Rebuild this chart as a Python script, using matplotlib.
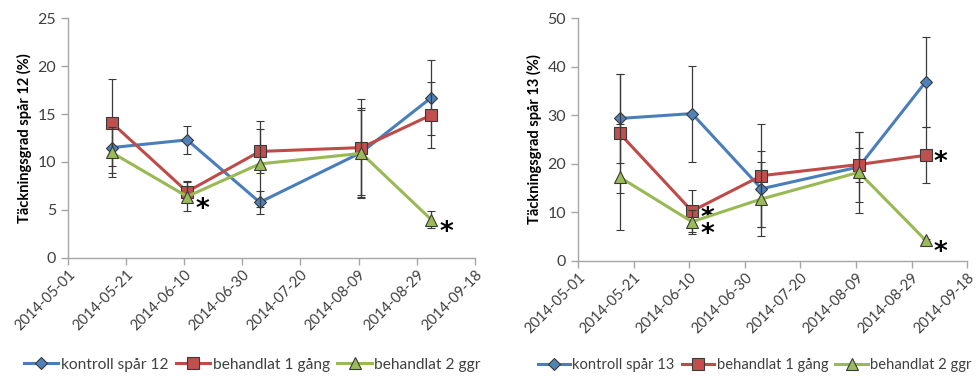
import matplotlib

matplotlib.use("Agg")
import matplotlib.dates as mdates
import matplotlib.pyplot as plt
from matplotlib.lines import Line2D
import numpy as np
import pandas as pd

plt.rcParams["font.family"] = ["Lato", "DejaVu Sans"]

dates = pd.to_datetime(["2014-05-16", "2014-06-11", "2014-07-06", "2014-08-10", "2014-09-03"])
tick_dates = pd.date_range("2014-05-01", "2014-09-18", freq="20D")

# spar 12
kontroll_12 = [11.5, 12.3, 5.8, 11.0, 16.7]
kontroll_12_err = [2.7, 1.5, 1.2, 4.4, 3.9]
beh1_12 = [14.1, 6.9, 11.1, 11.5, 14.9]
beh1_12_err = [4.5, 1.1, 2.3, 5.1, 3.4]
beh2_12 = [11.0, 6.4, 9.8, 10.9, 4.0]
beh2_12_err = [2.6, 1.5, 4.5, 4.7, 0.9]
stars_12 = [(2, 1), (2, 4)]  # (series index, point index)

# spar 13
kontroll_13 = [29.3, 30.3, 14.8, 19.3, 36.8]
kontroll_13_err = [9.2, 9.9, 7.8, 7.3, 9.3]
beh1_13 = [26.2, 10.2, 17.5, 19.8, 21.7]
beh1_13_err = [12.3, 4.3, 10.6, 3.5, 5.8]
beh2_13 = [17.2, 8.0, 12.7, 18.2, 4.2]
beh2_13_err = [11.0, 2.5, 7.7, 8.3, 0.3]
stars_13 = [(1, 1), (2, 1), (1, 4), (2, 4)]

labels_12 = ["kontroll spår 12", "behandlat 1 gång", "behandlat 2 ggr"]
labels_13 = ["kontroll spår 13", "behandlat 1 gång", "behandlat 2 ggr"]

colors = ["#4A7EBB", "#BE4B48", "#98B954"]
face = ["#4F81BD", "#C0504D", "#9BBB59"]
markers = ["D", "s", "^"]
msizes = [6.5, 8.5, 8.5]
grey = "#A6A6A6"
text_col = "#404040"


def marker_style(i):
  return dict(color=colors[i], lw=2.2, marker=markers[i], markersize=msizes[i],
              markerfacecolor=face[i], markeredgecolor="#3a3a3a", markeredgewidth=0.8)


def draw_panel(ax, series, errs, stars, ymax, ylabel):
  for i, (vals, err) in enumerate(zip(series, errs)):
    ax.errorbar(dates, vals, yerr=err, ecolor="#3a3a3a", elinewidth=0.9, capsize=3,
                capthick=0.9, zorder=3 + i, **marker_style(i))
  for s, p in stars:
    # green stars sit a bit below their marker, red ones a bit above
    dy = -14.5 if s == 2 else -10.5
    ax.annotate("*", xy=(dates[p], series[s][p]), xytext=(6, dy), textcoords="offset points",
                fontsize=19, fontweight="bold", color="black", ha="left", va="baseline",
                family="DejaVu Sans")
  ax.set_xlim(tick_dates[0], tick_dates[-1])
  ax.set_ylim(0, ymax)
  ax.set_yticks(np.linspace(0, ymax, 6))
  ax.set_xticks(tick_dates)
  ax.xaxis.set_major_formatter(mdates.DateFormatter("%Y-%m-%d"))
  for lab in ax.get_xticklabels():
    lab.set_rotation(45)
    lab.set_ha("right")
    lab.set_rotation_mode("anchor")
  ax.tick_params(axis="both", colors=grey, labelcolor=text_col, length=5, width=1)
  ax.tick_params(axis="y", labelsize=11.5)
  ax.tick_params(axis="x", labelsize=10.5, pad=2)
  for side in ["top", "right"]:
    ax.spines[side].set_visible(False)
  for side in ["left", "bottom"]:
    ax.spines[side].set_color(grey)
    ax.spines[side].set_linewidth(1)
  ax.set_ylabel(ylabel, fontsize=10.5, fontweight="bold", color="black", labelpad=4)


fig = plt.figure(figsize=(9.78, 3.76), dpi=100)
ax1 = fig.add_axes([0.0695, 0.314, 0.416, 0.638])
ax2 = fig.add_axes([0.591, 0.307, 0.398, 0.645])

draw_panel(ax1, [kontroll_12, beh1_12, beh2_12], [kontroll_12_err, beh1_12_err, beh2_12_err],
           stars_12, 25, "Täckningsgrad spår 12 (%)")
draw_panel(ax2, [kontroll_13, beh1_13, beh2_13], [kontroll_13_err, beh1_13_err, beh2_13_err],
           stars_13, 50, "Täckningsgrad spår 13 (%)")

for labels, cx, fs in [(labels_12, 0.258, 11.2), (labels_13, 0.7715, 10.6)]:
  handles = [Line2D([], [], **marker_style(i)) for i in range(3)]
  fig.legend(handles, labels, loc="center", bbox_to_anchor=(cx, 0.03), ncol=3, frameon=False,
             fontsize=fs, handlelength=2.2, handletextpad=0.15, columnspacing=0.5,
             labelcolor=text_col, borderaxespad=0, borderpad=0)

fig.savefig("out.png", dpi=100)
